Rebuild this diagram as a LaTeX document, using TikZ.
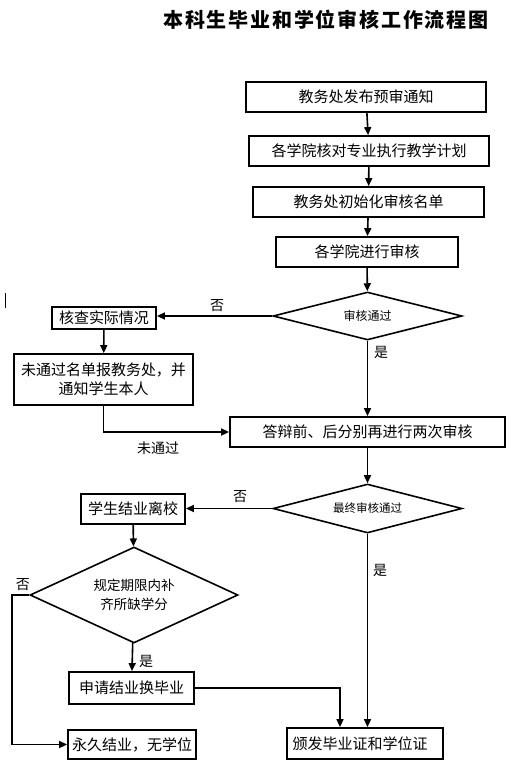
\documentclass[tikz,border=0pt]{standalone}
\usepackage{fontspec}
\setmainfont{Noto Sans CJK SC}
\usetikzlibrary{shapes.geometric,arrows.meta}
\begin{document}
\begin{tikzpicture}[x=1pt,y=-1pt,
  box/.style={draw,line width=1.8pt,rectangle,inner sep=0pt,align=center,font=\fontsize{15}{19}\selectfont},
  dia/.style={draw,line width=1.6pt,diamond,inner sep=0pt,align=center},
  conn/.style={line width=1.6pt},
  arr/.style={conn,-{Triangle[length=8pt,width=7pt]}},
  lbl/.style={inner sep=0pt,font=\fontsize{14}{16}\selectfont}]
\useasboundingbox[fill=white] (0,0) rectangle (529,772);
% title
\node[inner sep=0pt,font=\fontsize{20}{22}\selectfont\bfseries\addfontfeature{LetterSpace=9}] (title) at (326,20) {本科生毕业和学位审核工作流程图};
% stray mark
\coordinate (m1) at (5,293);
\coordinate (m2) at (5,308);
\draw[line width=1pt] (m1) -- (m2);
% main column
\node[box,minimum width=240pt,minimum height=30pt] (b1) at (366,97) {教务处发布预审通知};
\node[box,minimum width=240pt,minimum height=30pt] (b2) at (369,151) {各学院核对专业执行教学计划};
\node[box,minimum width=231pt,minimum height=30pt] (b3) at (368.5,202) {教务处初始化审核名单};
\node[box,minimum width=182pt,minimum height=30pt] (b4) at (367,252) {各学院进行审核};
\node[dia,shape aspect=3.9,minimum width=189pt,minimum height=48pt,font=\fontsize{12}{14}\selectfont] (d1) at (367.5,316) {审核通过};
\node[box,minimum width=104pt,minimum height=22pt] (chk) at (104,318) {核查实际情况};
\node[box,minimum width=179pt,minimum height=51pt] (ntf) at (103.5,379.5) {未通过名单报教务处，并\\通知学生本人};
\node[box,minimum width=275pt,minimum height=30pt] (b5) at (367.5,432) {答辩前、后分别再进行两次审核};
\node[dia,shape aspect=3.9,minimum width=189pt,minimum height=49pt,font=\fontsize{11.5}{14}\selectfont] (d2) at (367.5,508.5) {最终审核通过};
\node[box,minimum width=104pt,minimum height=30pt] (lv) at (133,509) {学生结业离校};
\node[dia,shape aspect=2.17,minimum width=208pt,minimum height=96pt,font=\fontsize{13.5}{19}\selectfont] (d3) at (134,595) {规定期限内补\\齐所缺学分};
\node[box,minimum width=125pt,minimum height=32pt] (ap) at (131.5,688) {申请结业换毕业};
\node[box,minimum width=128pt,minimum height=29pt] (pm) at (132,744.5) {永久结业，无学位};
\node[box,minimum width=156pt,minimum height=31pt] (fn) at (365,743.5) {颁发毕业证和学位证\hspace{10pt}};
% connectors
\draw[arr] (b1) -- (b2);
\draw[arr] (b2) -- (b3);
\draw[arr] (b3) -- (b4);
\draw[arr] (b4) -- (d1);
\draw[arr] (d1.west) -- (d1.west -| chk.east);
\draw[arr] (chk) -- (ntf);
\draw[arr] (d1) -- (b5);
\draw[arr] (ntf.south) |- (b5.west);
\draw[arr] (b5) -- (d2);
\draw[arr] (d2.west) -- (d2.west -| lv.east);
\draw[arr] (lv) -- (d3);
\draw[arr] (d3) -- (ap);
\coordinate (c1) at (12,595);
\draw[arr] (d3.west) -- (c1) |- (pm.west);
\coordinate (c2) at (340,688);
\draw[arr] (ap.east) -- (c2) -- (c2 |- fn.north);
\draw[arr] (d2.south) -- (d2.south |- fn.north);
% labels
\node[lbl] (l1) at (217,306) {否};
\node[lbl] (l2) at (381,352) {是};
\node[lbl] (l3) at (158,448) {未通过};
\node[lbl] (l4) at (240,497) {否};
\node[lbl] (l5) at (23,585) {否};
\node[lbl] (l6) at (146,661) {是};
\node[lbl] (l7) at (380,570) {是};
\end{tikzpicture}
\end{document}
